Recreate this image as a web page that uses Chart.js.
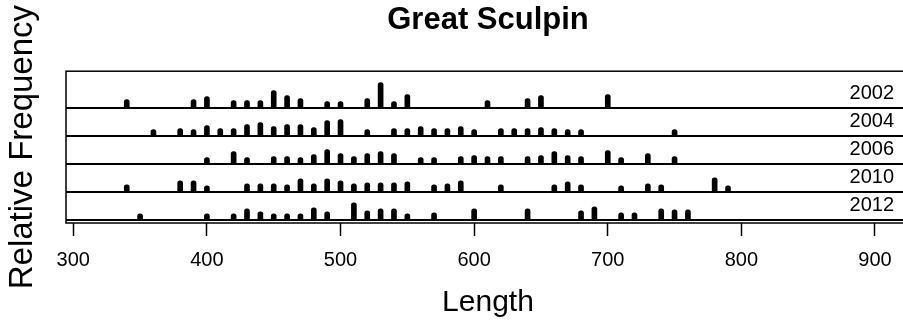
<!DOCTYPE html>
<html>
<head>
<meta charset="utf-8">
<script src="https://cdn.jsdelivr.net/npm/chart.js"></script>
<style>
  html, body { margin: 0; padding: 0; overflow: hidden; background: #fff; }
</style>
</head>
<body>
<canvas id="sculpinChart" width="910" height="329"></canvas>
<script>
// years, top row first
var years = ['2002', '2004', '2006', '2010', '2012'];
var xTicks = [300, 400, 500, 600, 700, 800, 900];

// lengths (10 mm bins) and relative frequency (bar height) per year
var len2002 = [340, 390, 400, 420, 430, 440, 450, 460, 470, 490, 500, 520, 530, 540, 550, 610, 640, 650, 700];
var freq2002 = [8, 8, 11, 7, 7, 7, 17, 12, 9, 6, 6, 9, 25, 6, 13, 7, 9, 12, 13];

var len2004 = [360, 380, 390, 400, 410, 420, 430, 440, 450, 460, 470, 480, 490, 500, 520, 540, 550, 560, 570, 580, 590, 600, 620, 630, 640, 650, 660, 670, 680, 750];
var freq2004 = [6, 7, 6, 10, 7, 7, 11, 13, 9, 11, 11, 8, 15, 16, 6, 7, 7, 9, 7, 7, 9, 6, 7, 7, 7, 8, 7, 6, 6, 6];

var len2006 = [400, 420, 430, 450, 460, 470, 480, 490, 500, 510, 520, 530, 540, 560, 570, 590, 600, 610, 620, 640, 650, 660, 670, 680, 700, 710, 730, 750];
var freq2006 = [6, 12, 6, 7, 7, 6, 9, 14, 10, 7, 10, 12, 10, 6, 6, 7, 8, 7, 7, 7, 8, 12, 8, 7, 13, 6, 10, 7];

var len2010 = [340, 380, 390, 400, 430, 440, 450, 460, 470, 480, 490, 500, 510, 520, 530, 540, 550, 570, 580, 590, 620, 660, 670, 680, 710, 730, 740, 780, 790];
var freq2010 = [7, 11, 11, 6, 8, 8, 8, 7, 13, 8, 13, 11, 8, 9, 9, 9, 10, 7, 8, 11, 7, 7, 10, 7, 6, 8, 7, 14, 6];

var len2012 = [350, 400, 420, 430, 440, 450, 460, 470, 480, 490, 510, 520, 530, 540, 550, 570, 600, 640, 680, 690, 710, 720, 740, 750, 760];
var freq2012 = [6, 6, 6, 11, 8, 6, 6, 6, 12, 8, 17, 9, 11, 11, 6, 7, 11, 11, 9, 13, 7, 7, 11, 10, 10];

var lengths = [len2002, len2004, len2006, len2010, len2012];
var freqs = [freq2002, freq2004, freq2006, freq2010, freq2012];

// each year sits on its own baseline, stacked upward
var rowGap = 28.1;
var bottomBase = 3.2;
function baseOf(i) { return bottomBase + (years.length - 1 - i) * rowGap; }

Chart.defaults.font.family = '"Liberation Sans", Arial, sans-serif';
Chart.defaults.color = '#000';

var datasets = years.map(function (yr, i) {
  var b = baseOf(i);
  return {
    label: yr,
    data: lengths[i].map(function (x, j) { return { x: x, y: [b, b + freqs[i][j]] }; }),
    backgroundColor: '#000',
    borderWidth: 0,
    barThickness: 5,
    borderRadius: 2.5,
    borderSkipped: 'bottom',
    grouped: false
  };
});

var yearLabels = {
  id: 'yearLabels',
  afterDatasetsDraw: function (chart) {
    var ctx = chart.ctx, y = chart.scales.y;
    ctx.save();
    ctx.font = '20px "Liberation Sans", Arial, sans-serif';
    ctx.fillStyle = '#000';
    ctx.textAlign = 'right';
    ctx.textBaseline = 'alphabetic';
    years.forEach(function (yr, i) {
      ctx.fillText(yr, 894, y.getPixelForValue(baseOf(i)) - 9);
    });
    ctx.restore();
  }
};

var plotBox = {
  id: 'plotBox',
  afterDraw: function (chart) {
    var a = chart.chartArea, ctx = chart.ctx;
    ctx.save();
    ctx.strokeStyle = '#000';
    ctx.lineWidth = 1.5;
    ctx.strokeRect(a.left, a.top, a.right - a.left, a.bottom - a.top);
    ctx.restore();
  }
};

new Chart(document.getElementById('sculpinChart').getContext('2d'), {
  type: 'bar',
  data: { datasets: datasets },
  plugins: [yearLabels, plotBox],
  options: {
    responsive: false,
    animation: false,
    devicePixelRatio: 1,
    layout: { padding: 0 },
    plugins: {
      legend: { display: false },
      tooltip: { enabled: false },
      title: {
        display: true,
        text: 'Great Sculpin',
        fullSize: false,
        font: { size: 31, weight: 'bold' },
        padding: { top: 2, bottom: 32 }
      }
    },
    scales: {
      x: {
        type: 'linear',
        min: 294.54,
        max: 926.2,
        offset: false,
        afterBuildTicks: function (s) { s.ticks = xTicks.map(function (v) { return { value: v }; }); },
        afterFit: function (s) { s.height = 106; },
        grid: { offset: false, drawOnChartArea: false, drawTicks: true, tickLength: 13, tickWidth: 1.5, tickColor: '#000' },
        border: { display: false },
        ticks: { font: { size: 20 }, padding: 12, maxRotation: 0 },
        title: { display: true, text: 'Length', font: { size: 30 }, padding: { top: 0, bottom: 8 } }
      },
      y: {
        min: 0,
        max: 152,
        afterBuildTicks: function (s) { s.ticks = years.map(function (yr, i) { return { value: baseOf(i) }; }); },
        afterFit: function (s) { s.width = 66; },
        grid: { color: '#000', lineWidth: 2, drawTicks: false },
        border: { display: false },
        ticks: { display: false },
        title: { display: true, text: 'Relative Frequency', font: { size: 33 }, padding: { top: 3, bottom: 0 } }
      }
    }
  }
});
</script>
</body>
</html>
